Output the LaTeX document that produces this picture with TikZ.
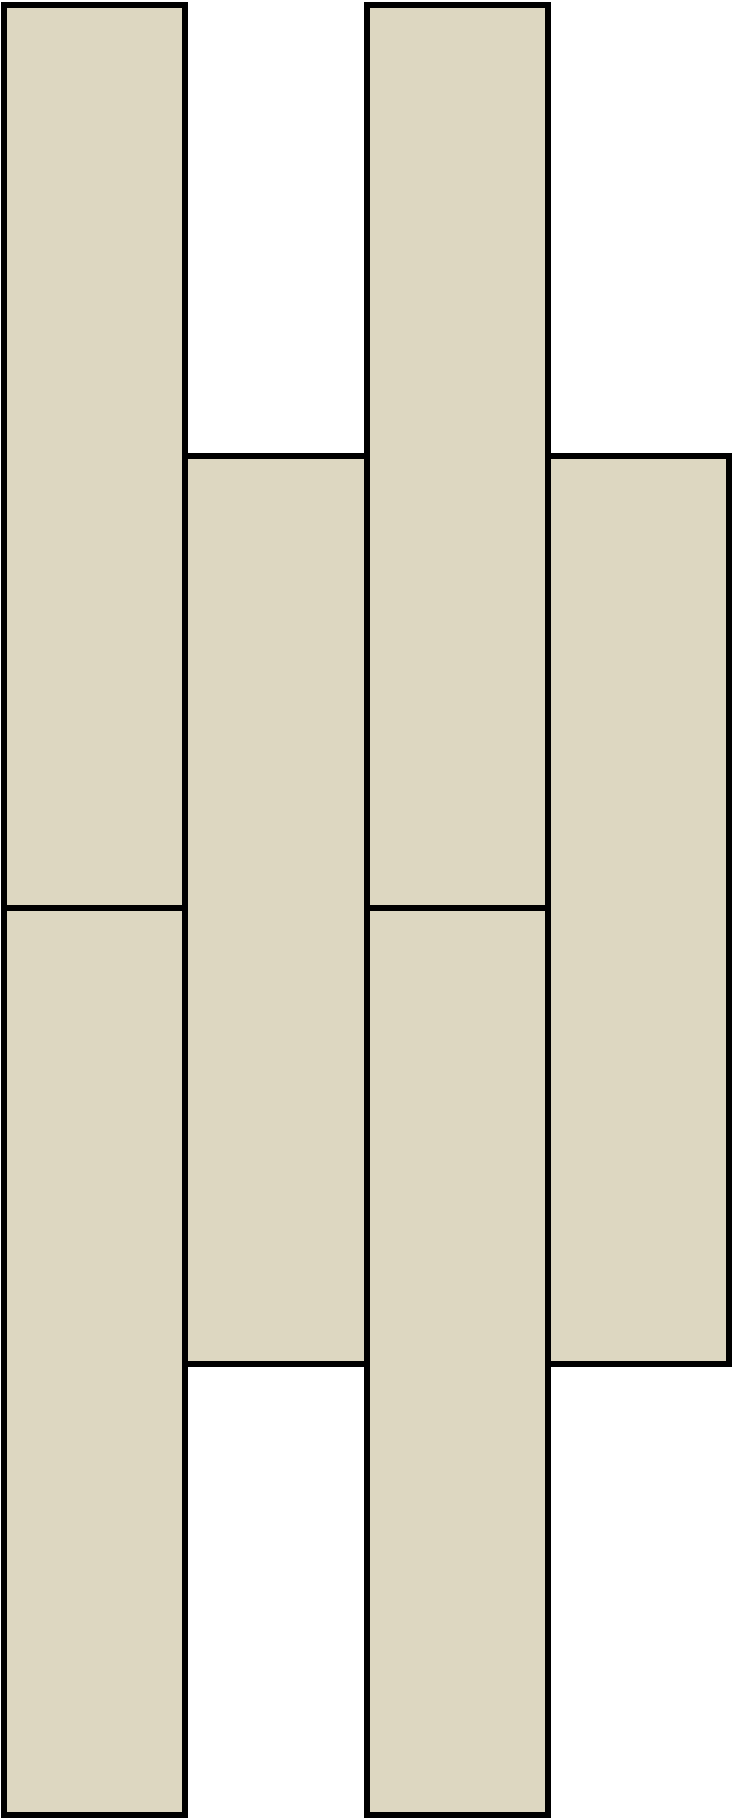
\documentclass[tikz,border=0pt]{standalone}
\definecolor{plank}{RGB}{221,215,193}
\begin{document}
\begin{tikzpicture}[x=0.5pt,y=-0.5pt,
  board/.style={fill=plank,draw=black,line width=3pt,line join=miter}]
\useasboundingbox (0,0) rectangle (732,1818);
% column 1
\draw[board] (4,5) rectangle (185,908);
\draw[board] (4,908) rectangle (185,1815);
% column 2
\draw[board] (185,456) rectangle (367,1364);
% column 3
\draw[board] (367,5) rectangle (548,908);
\draw[board] (367,908) rectangle (548,1815);
% column 4
\draw[board] (548,456) rectangle (729,1364);
\end{tikzpicture}
\end{document}
